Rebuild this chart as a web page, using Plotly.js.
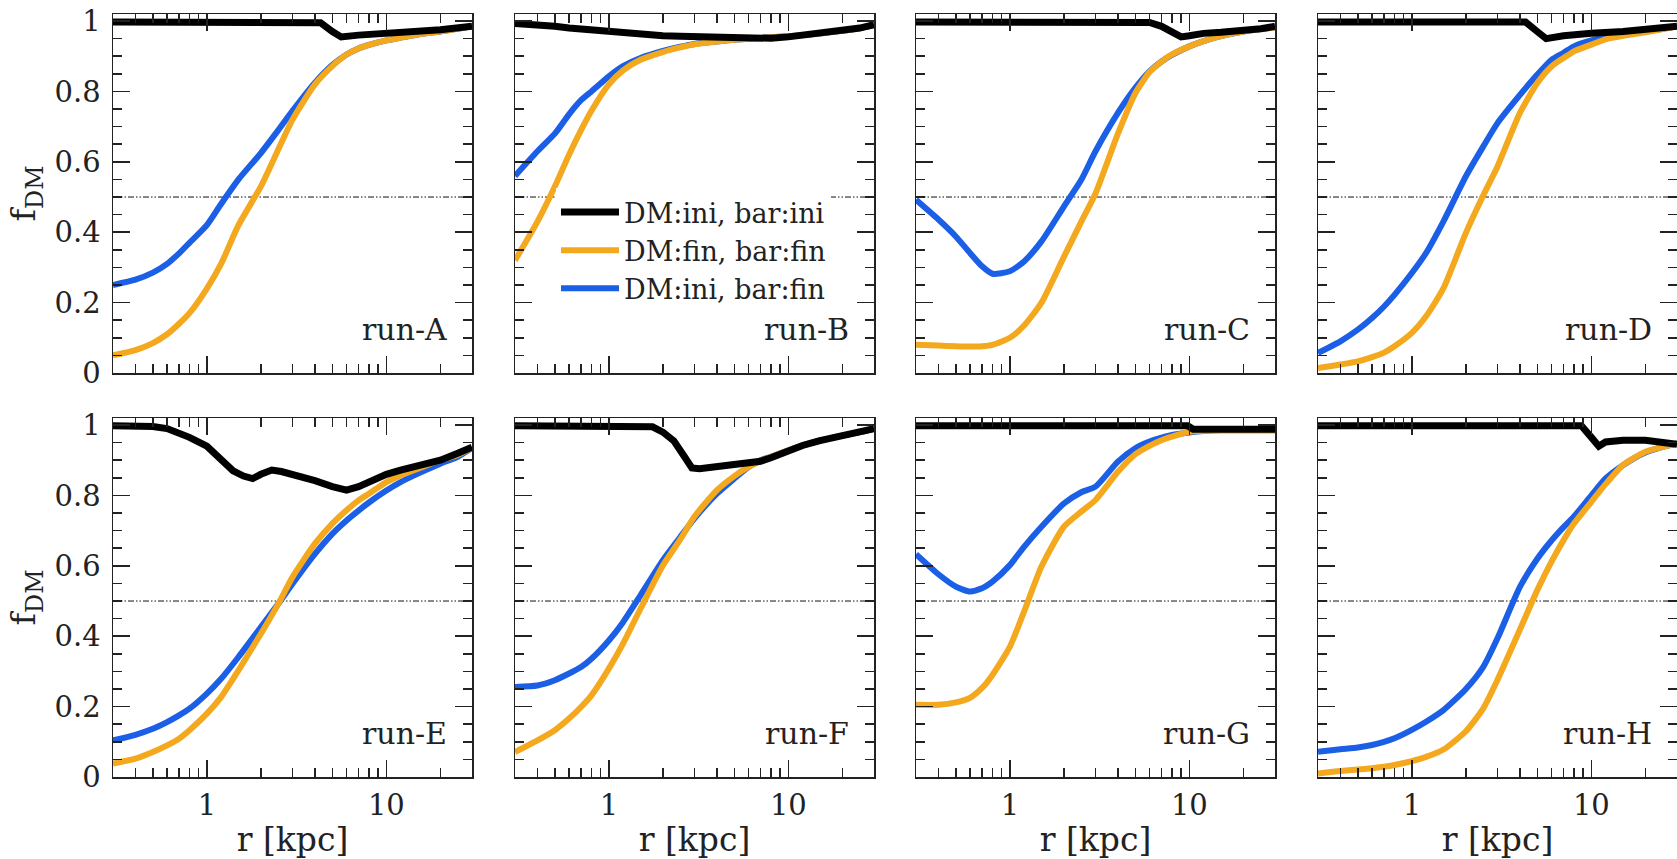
<!DOCTYPE html>
<html><head><meta charset="utf-8">
<script src="https://cdn.plot.ly/plotly-3.0.1.min.js"></script>
<style>html,body{margin:0;padding:0;overflow:hidden;background:#fff}</style>
</head><body><div id="chart"></div>
<script>
// ---------- data ----------
const runLabels = ['run-A','run-B','run-C','run-D','run-E','run-F','run-G','run-H'];
const seriesNames = ['DM:ini, bar:ini','DM:fin, bar:fin','DM:ini, bar:fin'];
const xTickVals = [1, 10];
const xTickText = ['1', '10'];
const xMinorVals = [0.4,0.5,0.6,0.7,0.8,0.9,2,3,4,5,6,7,8,9,20];
const yTickVals = [0, 0.2, 0.4, 0.6, 0.8, 1];
const halfLevel = 0.5;

// common radius grid (kpc) for the orange / blue curves
const r = [0.3,0.4,0.5,0.6,0.7,0.8,1,1.2,1.5,2,2.5,3,4,5,6,7,8,10,12,15,20,25,30];

// DM:fin, bar:fin (orange)
const orangeA = [0.05,0.065,0.085,0.11,0.14,0.17,0.24,0.31,0.42,0.53,0.635,0.72,0.82,0.872,0.905,0.922,0.932,0.945,0.953,0.962,0.97,0.978,0.985];
const orangeB = [0.32,0.43,0.53,0.62,0.69,0.745,0.82,0.86,0.89,0.912,0.925,0.934,0.942,0.947,0.95,0.952,0.954,0.957,0.96,0.965,0.972,0.98,0.988];
const orangeC = [0.08,0.078,0.076,0.075,0.076,0.08,0.1,0.135,0.2,0.33,0.43,0.51,0.68,0.795,0.855,0.885,0.905,0.928,0.943,0.957,0.97,0.977,0.982];
const orangeD = [0.014,0.024,0.033,0.045,0.058,0.076,0.114,0.161,0.241,0.398,0.505,0.587,0.739,0.824,0.871,0.895,0.914,0.933,0.948,0.958,0.968,0.977,0.985];
const orangeE = [0.038,0.052,0.071,0.09,0.109,0.133,0.18,0.227,0.303,0.407,0.492,0.568,0.663,0.72,0.758,0.786,0.805,0.838,0.857,0.876,0.9,0.915,0.935];
const orangeF = [0.071,0.104,0.133,0.166,0.199,0.232,0.308,0.379,0.478,0.601,0.675,0.74,0.815,0.855,0.881,0.898,0.91,0.928,0.942,0.956,0.97,0.98,0.99];
const orangeG = [0.205,0.205,0.212,0.225,0.253,0.29,0.37,0.47,0.598,0.711,0.754,0.787,0.867,0.917,0.941,0.957,0.967,0.981,0.984,0.985,0.985,0.985,0.985];
const orangeH = [0.01,0.017,0.021,0.025,0.029,0.034,0.045,0.057,0.078,0.13,0.195,0.276,0.419,0.531,0.612,0.673,0.72,0.782,0.832,0.886,0.924,0.938,0.948];

// DM:ini, bar:fin (blue)
const blueA = [0.25,0.265,0.285,0.31,0.34,0.37,0.42,0.48,0.55,0.625,0.69,0.745,0.825,0.875,0.905,0.922,0.932,0.945,0.953,0.962,0.97,0.978,0.985];
const blueB = [0.56,0.63,0.68,0.735,0.775,0.80,0.843,0.872,0.895,0.915,0.927,0.935,0.942,0.947,0.95,0.952,0.954,0.957,0.96,0.965,0.972,0.98,0.988];
const blueC = [0.492,0.436,0.388,0.341,0.303,0.282,0.289,0.317,0.374,0.473,0.549,0.63,0.739,0.81,0.857,0.885,0.904,0.928,0.943,0.957,0.97,0.977,0.982];
const blueD = [0.057,0.09,0.123,0.156,0.189,0.222,0.284,0.341,0.431,0.559,0.644,0.71,0.79,0.848,0.89,0.91,0.928,0.945,0.953,0.96,0.97,0.978,0.985];
const blueE = [0.104,0.12,0.137,0.156,0.175,0.194,0.237,0.279,0.341,0.426,0.492,0.549,0.634,0.691,0.729,0.757,0.78,0.814,0.838,0.862,0.89,0.91,0.935];
const blueF = [0.256,0.26,0.275,0.294,0.3125,0.336,0.388,0.44,0.516,0.616,0.682,0.735,0.805,0.848,0.881,0.9,0.91,0.928,0.942,0.956,0.97,0.98,0.99];
const blueG = [0.633,0.576,0.541,0.527,0.536,0.555,0.602,0.654,0.711,0.777,0.809,0.825,0.896,0.934,0.953,0.964,0.972,0.979,0.983,0.985,0.985,0.985,0.985];
const blueH = [0.072,0.079,0.084,0.091,0.1,0.11,0.134,0.157,0.19,0.25,0.313,0.394,0.54,0.62,0.672,0.71,0.74,0.80,0.848,0.886,0.922,0.938,0.948];

// DM:ini, bar:ini (black) – own radius samples
const rBlackA = [0.3,4,4.3,5,5.6,7,10,15,20,30];
const blackA  = [0.997,0.997,0.995,0.97,0.955,0.96,0.965,0.97,0.975,0.985];
const rBlackB = [0.3,0.4,0.5,0.6,0.7,0.8,1,1.2,1.5,2,2.5,3,4,5,6,7,8,10,12,15,20,25,30];
const blackB  = [0.993,0.99,0.985,0.98,0.977,0.974,0.968,0.965,0.962,0.958,0.957,0.956,0.953,0.95,0.949,0.95,0.951,0.955,0.96,0.965,0.972,0.98,0.99];
const rBlackC = [0.3,6,7,8,9,10,12,15,20,25,30];
const blackC  = [0.997,0.996,0.985,0.968,0.955,0.958,0.965,0.968,0.972,0.978,0.985];
const rBlackD = [0.3,4.3,5,5.6,7,8,10,15,20,30];
const blackD  = [0.997,0.997,0.97,0.95,0.958,0.962,0.965,0.97,0.975,0.985];
const rBlackE = [0.3,0.5,0.6,0.7,0.8,1,1.2,1.4,1.6,1.8,2.0,2.3,2.6,3,4,5,6,7,8,10,12,15,20,25,30];
const blackE  = [0.998,0.996,0.99,0.978,0.965,0.94,0.9,0.87,0.855,0.848,0.86,0.872,0.868,0.86,0.842,0.825,0.815,0.825,0.84,0.86,0.872,0.883,0.9,0.92,0.937];
const rBlackF = [0.3,1,1.5,1.75,2,2.3,2.6,2.9,3.2,4,5,6,7,8,10,12,15,20,25,30];
const blackF  = [0.998,0.998,0.998,0.995,0.98,0.955,0.915,0.878,0.876,0.882,0.888,0.892,0.897,0.907,0.928,0.942,0.956,0.97,0.98,0.99];
const rBlackG = [0.3,9.8,10.5,30];
const blackG  = [0.998,0.998,0.988,0.988];
const rBlackH = [0.3,8.8,10,11,12,15,20,25,30];
const blackH  = [0.998,0.998,0.965,0.94,0.952,0.957,0.957,0.953,0.945];

const blackX = [rBlackA,rBlackB,rBlackC,rBlackD,rBlackE,rBlackF,rBlackG,rBlackH];
const blackY = [blackA,blackB,blackC,blackD,blackE,blackF,blackG,blackH];
const orangeY = [orangeA,orangeB,orangeC,orangeD,orangeE,orangeF,orangeG,orangeH];
const blueY = [blueA,blueB,blueC,blueD,blueE,blueF,blueG,blueH];

// ---------- styling / layout ----------
const W = 1680, H = 859;
const FONT = 'DejaVu Serif, serif';
const colBlack = '#000000', colOrange = '#f3a81e', colBlue = '#1b5fe6';
const colLefts = [113, 515, 916, 1318];
const panelW = 359;
const rowsPx = [[14, 373], [418, 777]];

const traces = [];
const layout = {
  width: W, height: H,
  margin: {l: 0, r: 0, t: 0, b: 0},
  paper_bgcolor: '#fff', plot_bgcolor: '#fff',
  font: {family: FONT, color: '#222', size: 28},
  showlegend: true,
  legend: {
    x: 556 / W, xanchor: 'left', y: 1 - 188 / H, yanchor: 'top',
    bgcolor: '#ffffff', borderwidth: 0,
    font: {family: FONT, size: 27, color: '#222'},
    itemwidth: 58, tracegroupgap: 0
  },
  annotations: [], shapes: []
};

for (let i = 0; i < 8; i++) {
  const row = i < 4 ? 0 : 1, col = i % 4;
  const suf = i === 0 ? '' : String(i + 1);
  const xa = 'x' + suf, ya = 'y' + suf;
  const showLeg = i === 0;
  // drawing order: blue, orange, black (black on top); legend order via legendrank
  traces.push({x: r, y: blueY[i], xaxis: xa, yaxis: ya, mode: 'lines', name: seriesNames[2],
    line: {color: colBlue, width: 6, shape: 'spline', smoothing: 0.6}, showlegend: showLeg, legendrank: 3});
  traces.push({x: r, y: orangeY[i], xaxis: xa, yaxis: ya, mode: 'lines', name: seriesNames[1],
    line: {color: colOrange, width: 6, shape: 'spline', smoothing: 0.6}, showlegend: showLeg, legendrank: 2});
  traces.push({x: blackX[i], y: blackY[i], xaxis: xa, yaxis: ya, mode: 'lines', name: seriesNames[0],
    line: {color: colBlack, width: 7}, showlegend: showLeg, legendrank: 1});

  const x0 = colLefts[col], [yt, yb] = rowsPx[row];
  const bottomRow = row === 1, leftCol = col === 0;
  const xAxis = {
    type: 'log', range: [Math.log10(0.3), Math.log10(30)],
    domain: [x0 / W, (x0 + panelW) / W], anchor: ya,
    showline: true, linecolor: '#222', linewidth: 1.5, mirror: 'allticks',
    ticks: 'inside', ticklen: 17, tickwidth: 1.5, tickcolor: '#222',
    tickmode: 'array', tickvals: xTickVals, ticktext: xTickText,
    showticklabels: bottomRow, ticklabelstandoff: 2,
    tickfont: {family: FONT, size: 29, color: '#222'},
    minor: {tickmode: 'array', tickvals: xMinorVals, ticks: 'inside', ticklen: 9, tickwidth: 1.5, tickcolor: '#222', showgrid: false},
    showgrid: false, zeroline: false, fixedrange: true
  };
  if (bottomRow) xAxis.title = {text: 'r [kpc]', font: {family: FONT, size: 33, color: '#222'}, standoff: 6};
  layout['xaxis' + suf] = xAxis;
  const yAxis = {
    range: [0, 1.02],
    domain: [1 - yb / H, 1 - yt / H], anchor: xa,
    showline: true, linecolor: '#222', linewidth: 1.5, mirror: 'allticks',
    ticks: 'inside', ticklen: 17, tickwidth: 1.5, tickcolor: '#222',
    tickmode: 'array', tickvals: yTickVals,
    showticklabels: leftCol, ticklabelstandoff: 5,
    tickfont: {family: FONT, size: 29, color: '#222'},
    minor: {dtick: 0.05, ticks: 'inside', ticklen: 9, tickwidth: 1.5, tickcolor: '#222', showgrid: false},
    showgrid: false, zeroline: false, fixedrange: true
  };
  if (leftCol) yAxis.title = {text: 'f<sub>DM</sub>', font: {family: FONT, size: 34, color: '#222'}, standoff: 8};
  layout['yaxis' + suf] = yAxis;
  layout.shapes.push({type: 'line', xref: xa + ' domain', x0: 0, x1: 1, yref: ya, y0: halfLevel, y1: halfLevel,
    line: {color: '#111', width: 1, dash: '6px,2px,1.5px,2px,1.5px,2px'}, layer: 'below'});
  layout.annotations.push({text: runLabels[i], xref: xa + ' domain', yref: ya + ' domain',
    x: 0.935, y: 0.12, xanchor: 'right', yanchor: 'middle', showarrow: false,
    font: {family: FONT, size: 30, color: '#222'}});
}

Plotly.newPlot('chart', traces, layout, {staticPlot: true, displayModeBar: false});
</script></body></html>
